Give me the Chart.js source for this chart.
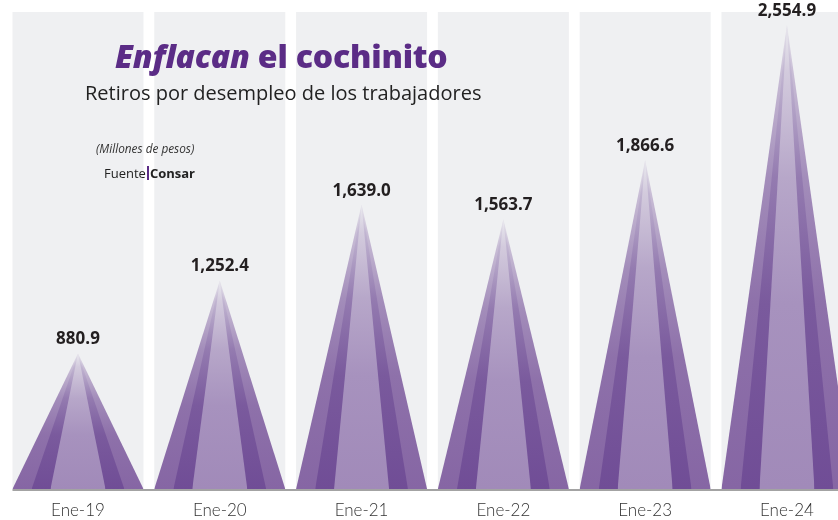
<!DOCTYPE html>
<html>
<head>
<meta charset="utf-8">
<script src="https://cdn.jsdelivr.net/npm/chart.js@4.4.1/dist/chart.umd.min.js"></script>
<style>
html,body{margin:0;padding:0;background:#fff;}
#wrap{position:relative;width:838px;height:520px;overflow:hidden;}
#c{position:absolute;left:0;top:0;}
.t{position:absolute;white-space:nowrap;font-family:"Open Sans",Lato,sans-serif;}
#title{left:115px;top:36px;font-size:32px;font-weight:800;color:#5b2c86;line-height:40px;letter-spacing:-0.2px;}
#title i{font-style:italic;}
#sub{left:85px;top:80px;font-size:20px;color:#222;line-height:26px;}
#units{left:96px;top:141px;font-size:11.8px;font-style:italic;color:#333;line-height:14px;}
#src{left:104px;top:165px;font-size:13px;color:#222;line-height:16px;}
#src .bar{display:inline-block;width:2px;height:14px;background:#5b2c86;vertical-align:-2px;margin:0 1px;}
#src b{font-weight:700;}
</style>
</head>
<body>
<div id="wrap">
<canvas id="c" width="838" height="520"></canvas>
<div class="t" id="title"><i>Enflacan</i> el cochinito</div>
<div class="t" id="sub">Retiros por desempleo de los trabajadores</div>
<div class="t" id="units">(Millones de pesos)</div>
<div class="t" id="src">Fuente<span class="bar"></span><b>Consar</b></div>
</div>
<script>
// ---- data ----
const categories = ['Ene-19', 'Ene-20', 'Ene-21', 'Ene-22', 'Ene-23', 'Ene-24'];
const values = [880.9, 1252.4, 1639.0, 1563.7, 1866.6, 2554.9];
const valueLabels = values.map(v => v.toLocaleString('en-US', {minimumFractionDigits: 1, maximumFractionDigits: 1}));

// ---- style ----
const Y_MIN = 190, Y_MAX = 2620;
const X_MIN = -0.55, X_MAX = 5.36;
const BAND_HALF = 0.462;
const BG_BAND = [239, 240, 242];
const layers = [
  {half: 0.462, rgb: [134, 102, 164], order: 3},
  {half: 0.327, rgb: [112, 77, 150], order: 2},
  {half: 0.194, rgb: [161, 138, 185], order: 1}
];
const mixStops = [[0, 0.06], [0.1, 0.36], [0.33, 0.72], [0.6, 0.92], [1, 1]];

function mix(rgb, f) {
  const c = rgb.map((v, k) => Math.round(BG_BAND[k] + (v - BG_BAND[k]) * f));
  return `rgb(${c[0]},${c[1]},${c[2]})`;
}

const datasets = [];
categories.forEach((cat, i) => {
  layers.forEach(L => {
    datasets.push({
      label: cat,
      data: [{x: i - L.half, y: Y_MIN}, {x: i, y: values[i]}, {x: i + L.half, y: Y_MIN}],
      fill: 'start',
      borderWidth: 0,
      pointRadius: 0,
      tension: 0,
      order: L.order,
      backgroundColor: (ctx) => {
        const chart = ctx.chart;
        const area = chart.chartArea;
        if (!area) return mix(L.rgb, 1);
        const yTop = chart.scales.y.getPixelForValue(values[i]);
        const g = chart.ctx.createLinearGradient(0, yTop, 0, area.bottom);
        mixStops.forEach(s => g.addColorStop(s[0], mix(L.rgb, s[1])));
        return g;
      }
    });
  });
});

const bandsPlugin = {
  id: 'bands',
  beforeDatasetsDraw(chart) {
    const {ctx, chartArea, scales: {x}} = chart;
    ctx.save();
    ctx.fillStyle = `rgb(${BG_BAND.join(',')})`;
    categories.forEach((c, i) => {
      const l = x.getPixelForValue(i - BAND_HALF);
      const r = x.getPixelForValue(i + BAND_HALF);
      ctx.fillRect(l, chartArea.top, r - l, chartArea.bottom - chartArea.top);
    });
    ctx.restore();
  },
  afterDatasetsDraw(chart) {
    const {ctx, chartArea, scales: {x, y}} = chart;
    ctx.save();
    // baseline
    ctx.strokeStyle = '#a3a3a3';
    ctx.lineWidth = 2;
    ctx.beginPath();
    ctx.moveTo(x.getPixelForValue(-BAND_HALF), chartArea.bottom + 1);
    ctx.lineTo(chart.width, chartArea.bottom + 1);
    ctx.stroke();
    // value labels
    ctx.fillStyle = '#231f20';
    ctx.font = 'bold 17px "Open Sans", Lato, sans-serif';
    ctx.textAlign = 'center';
    ctx.textBaseline = 'alphabetic';
    values.forEach((v, i) => {
      ctx.fillText(valueLabels[i], x.getPixelForValue(i), y.getPixelForValue(v) - 9);
    });
    ctx.restore();
  }
};

new Chart(document.getElementById('c'), {
  type: 'line',
  data: {datasets},
  options: {
    responsive: false,
    animation: false,
    events: [],
    layout: {padding: {top: 12, left: 0, right: 0, bottom: 0}},
    plugins: {legend: {display: false}, tooltip: {enabled: false}, title: {display: false}},
    scales: {
      x: {
        type: 'linear',
        min: X_MIN,
        max: X_MAX,
        grid: {display: false, drawTicks: false},
        border: {display: false},
        afterBuildTicks: s => { s.ticks = categories.map((_, i) => ({value: i})); },
        afterFit: s => { s.height = 31; },
        ticks: {
          autoSkip: false,
          maxRotation: 0,
          padding: 11,
          color: '#333',
          font: {family: 'Lato, "Open Sans", sans-serif', size: 17, weight: 300},
          callback: v => categories[v] ?? ''
        }
      },
      y: {display: false, min: Y_MIN, max: Y_MAX}
    }
  },
  plugins: [bandsPlugin]
});
</script>
</body>
</html>
